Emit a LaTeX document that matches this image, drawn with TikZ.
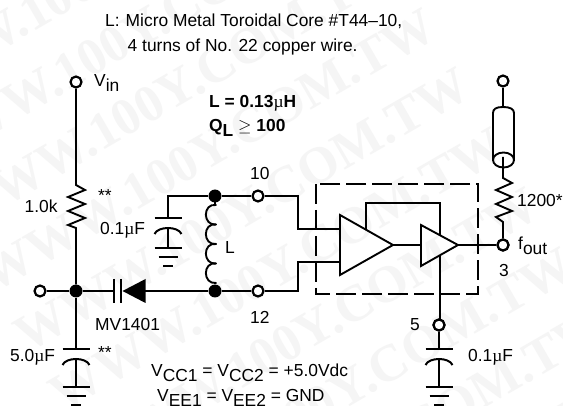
\documentclass[tikz,border=0pt]{standalone}
\usepackage{fontspec}
\setmainfont{Liberation Sans}
\newfontfamily\wmfont{Liberation Serif}
\newcommand{\umu}{{\wmfont\mdseries µ}}
\newcommand{\uF}{\umu F}
\newcommand{\sbs}[1]{\raisebox{-5pt}{#1}}
\usetikzlibrary{calc}
\definecolor{wm}{gray}{0.96}
\tikzset{
 x=1pt,y=-1pt,
 wire/.style={line width=1.9pt,line join=miter},
 term/.style={circle,draw,line width=2.2pt,fill=white,minimum size=11pt,inner sep=0pt},
 dot/.style={circle,fill=black,minimum size=13pt,inner sep=0pt},
 lab/.style={font=\fontsize{17.4}{20}\selectfont,inner sep=0pt,anchor=base west},
 blab/.style={font=\bfseries\fontsize{17.4}{20}\selectfont,inner sep=0pt,anchor=base west},
 wmark/.style={font=\wmfont\bfseries\fontsize{52}{54}\selectfont,text=wm,rotate=30,inner sep=0pt},
 plate/.style={line width=2pt},
}
% x, top plate y, distance to first ground bar
\newcommand{\capgnd}[3]{%
 \draw[plate] (#1-13.5,#2) -- (#1+13.5,#2);
 \draw[plate] (#1-13.5,#2+16) .. controls (#1-10,#2+8) and (#1+10,#2+8) .. (#1+13.5,#2+16);
 \draw[wire] (#1,#2+10) -- (#1,#2+#3);
 \draw[plate] (#1-13.5,#2+#3) -- (#1+13.5,#2+#3);
 \draw[plate] (#1-9.5,#2+#3+9) -- (#1+9.5,#2+#3+9);
 \draw[plate] (#1-5,#2+#3+18) -- (#1+5,#2+#3+18);
}
\begin{document}
\begin{tikzpicture}
\useasboundingbox (0,0) rectangle (563,406);
\fill[white] (0,0) rectangle (563,406);
% watermark rows
\foreach \k in {-3,...,6}
 \node[wmark] (wm\k) at ({105*0.866+(234+69*\k)*0.5},{-105*0.5+(234+69*\k)*0.866}) {WWW.100Y.COM.TW};
% nodes
\node[term] (vin) at (76,82) {};
\node[term] (lt) at (40,291) {};
\node[dot] (j1) at (76,291) {};
\node[dot] (j2) at (215,196) {};
\node[dot] (j3) at (215,291) {};
\node[term] (t10) at (258,196) {};
\node[term] (t12) at (258,291) {};
\node[term] (tout) at (503,245) {};
\node[term] (ttop) at (503,81) {};
\node[term] (t5) at (439,325) {};
\coordinate (r1t) at (76,185); \coordinate (r1b) at (76,228);
\coordinate (r2t) at (503,178); \coordinate (r2b) at (503,222);
\coordinate (c1) at (76,349);
\coordinate (c3) at (439,349);
\coordinate (tri1a) at (340,229); \coordinate (tri1b) at (340,262); \coordinate (tri1o) at (393,245);
\coordinate (tri2i) at (421,245); \coordinate (tri2o) at (458,245);
% left rail
\draw[wire] (vin) -- (r1t) -- ++(9,5) -- ++(-17,7) -- ++(17,7) -- ++(-17,7) -- ++(17,7) -- ++(-17,7) -- (r1b) -- (j1);
\draw[wire] (lt) -- (j1);
\draw[wire] (j1) -- (c1);
\capgnd{76}{349}{38}
% diode
\draw[wire] (j1) -- (113,291);
\draw[line width=2.2pt] (114,279) -- (114,303);
\draw[line width=2.2pt] (121,279) -- (121,303);
\fill (122.5,291) -- (145.5,279) -- (145.5,303) -- cycle;
\draw[wire] (145,291) -- (j3);
% tank
\draw[wire] (j2) -- (168,196) -- (168,218);
\capgnd{168}{218}{30}
\draw[wire] (j2) -- (t10);
\draw[wire] (j3) -- (t12);
\foreach \yy in {205,224.5,244,263.5}
 \draw[wire,line cap=round] (216,\yy) .. controls (202.5,\yy-2) and (202.5,\yy+21) .. (216,\yy+19.5);
\draw[wire] (215,196) -- (215,205);
\draw[wire] (215,283) -- (j3);
% connections to amplifier
\draw[wire] (t10) -- (298,196) -- (298,229) -- (tri1a);
\draw[wire] (t12) -- (298,291) -- (298,262) -- (tri1b);
\draw[wire] (340,215) -- (393,245) -- (340,275) -- cycle;
\draw[wire] (421,225) -- (458,245) -- (421,266) -- cycle;
\draw[wire] (tri1o) -- (tri2i);
\draw[wire] (tri2o) -- (tout);
\draw[wire] (366,229.7) -- (366,203) -- (440,203) -- (440,235);
\draw[wire] (440,255) -- (440,320);
\draw[wire] (t5) -- (c3);
\capgnd{439}{349}{38}
\draw[wire,dash pattern=on 20pt off 6pt] (316,184) rectangle (478,294);
% output
\draw[wire] (ttop) -- (503,107);
\draw[wire] (493,160) -- (493,113) .. controls (493,109) and (496,107) .. (503,107) .. controls (510,107) and (514,109) .. (514,113) -- (514,160);
\draw[wire] (503.5,160) ellipse[x radius=10.5,y radius=7.5];
\draw[wire] (503,157) -- (r2t) -- ++(9,5) -- ++(-16,7) -- ++(16,7) -- ++(-16,7) -- ++(16,7) -- ++(-16,6) -- (r2b) -- (tout);
\node[term] at (tout) {};
\node[term] at (t5) {};
% texts
\node[lab] (n1) at (105,26.5) {L:\hspace{6pt}Micro Metal Toroidal Core \#T44--10,};
\node[lab] (n2) at (127.5,51.5) {4 turns of No. 22 copper wire.};
\node[lab] (lvin) at (94,87) {V\sbs{in}};
\node[blab] (lval) at (209,108) {L = 0.13\umu H};
\node[blab] (lq) at (209,132) {Q\sbs{L} {\normalfont$\geq$} 100};
\node[lab] (l1k) at (24.5,213) {1.0k};
\node[lab] (s1) at (98,202) {**};
\node[lab] (s2) at (98,359) {**};
\node[lab] (l01a) at (100,235) {0.1\uF};
\node[lab] (ll) at (225,254) {L};
\node[lab] (l10) at (250,180) {10};
\node[lab] (l12) at (250,324) {12};
\node[lab] (lmv) at (95,331) {MV1401};
\node[lab] (l5u) at (10,362) {5.0\uF};
\node[lab] (lvcc) at (151,377) {V\sbs{CC1} = V\sbs{CC2} = +5.0Vdc};
\node[lab] (lvee) at (157,402) {V\sbs{EE1} = V\sbs{EE2} = GND};
\node[lab] (l1200) at (517,207) {1200*};
\node[lab] (lfout) at (518,250) {f\sbs{out}};
\node[lab] (l3) at (499,277) {3};
\node[lab] (l5) at (410,331) {5};
\node[lab] (l01b) at (468,362) {0.1\uF};
\end{tikzpicture}
\end{document}
